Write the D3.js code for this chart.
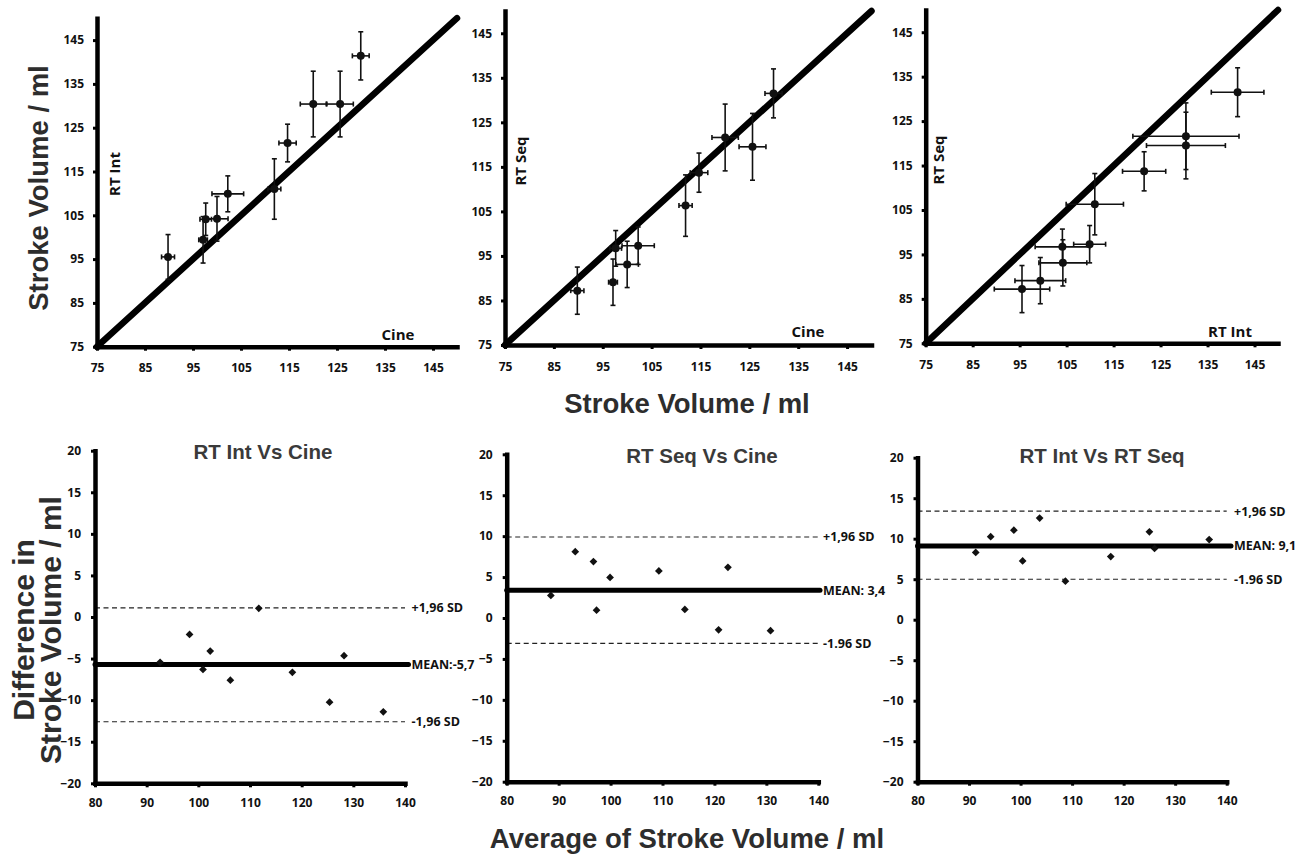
<!DOCTYPE html>
<html>
<head>
<meta charset="utf-8">
<script src="https://cdn.jsdelivr.net/npm/d3@7"></script>
<style>
  body { margin: 0; background: #fff; }
  svg { display: block; }
</style>
</head>
<body>
<svg id="chart" width="1308" height="856"></svg>
<script>
// ---- Stroke volume per subject (ml), mean of repeated measurements ----
const cine   = [89.8, 97.1, 97.65, 100.0, 102.25, 111.95, 114.7, 120.05, 125.65, 129.95];
const rtInt  = [95.5, 99.4, 104.1, 104.2, 109.9, 111.0, 121.5, 130.4, 130.4, 141.4];
const rtSeq  = [87.2, 89.1, 96.7, 93.1, 97.3, 106.3, 113.7, 121.6, 119.5, 131.5];

// ---- Standard deviations used for the error bars (ml) ----
const cineSD   = [1.35, 0.9, 1.2, 2.3, 3.3, 1.35, 1.8, 2.7, 2.75, 1.75];
const rtIntSD  = [5.1, 5.3, 3.7, 5.1, 4.1, 6.9, 4.3, 7.5, 7.5, 5.5];
const rtSeqSD  = [5.3, 5.2, 4.0, 5.2, 4.2, 6.9, 4.4, 7.5, 7.5, 5.5];
const rtIntSDx = [5.9, 5.4, 5.8, 5.1, 3.4, 6.1, 4.6, 11.3, 8.4, 5.6];

// ---- Bland-Altman: averages and differences (ml) ----
const baIntCineAvg  = [92.6, 98.3, 100.9, 102.3, 106.2, 111.7, 118.2, 125.4, 128.2, 135.8];
const baIntCineDiff = [-5.45, -2.1, -6.3, -4.1, -7.6, 1.05, -6.65, -10.25, -4.65, -11.4];
const baSeqCineAvg  = [88.5, 93.2, 96.7, 97.3, 99.9, 109.3, 114.3, 120.8, 122.6, 130.8];
const baSeqCineDiff = [2.75, 8.1, 6.9, 0.95, 4.95, 5.75, 1.05, -1.45, 6.2, -1.55];
const baIntSeqAvg   = [91.3, 94.2, 98.7, 100.4, 103.7, 108.7, 117.5, 125.0, 126.0, 136.6];
const baIntSeqDiff  = [8.3, 10.25, 11.05, 7.25, 12.55, 4.75, 7.8, 10.85, 8.8, 9.9];

// mean bias and limits of agreement (+1.96 SD, -1.96 SD)
const baMeans  = [-5.7, 3.4, 9.1];
const baUpper  = [1.1, 9.9, 13.4];
const baLower  = [-12.6, -3.1, 5.0];
const baUpperLabels = ["+1,96 SD", "+1,96 SD", "+1,96 SD"];
const baLowerLabels = ["-1,96 SD", "-1.96 SD", "-1.96 SD"];
const baMeanSep = ["", " ", " "];
const baTitles = ["RT Int Vs Cine", "RT Seq Vs Cine", "RT Int Vs RT Seq"];

// ---- Tick values ----
const svTicks   = [75, 85, 95, 105, 115, 125, 135, 145];
const avgTicks  = [80, 90, 100, 110, 120, 130, 140];
const diffTicks = [-20, -15, -10, -5, 0, 5, 10, 15, 20];

const svg = d3.select("#chart");
const tickFont = "'Open Sans', 'Noto Sans', sans-serif";
const titleFont = "'Liberation Sans', Arial, sans-serif";

function styleAxis(g) {
  g.select(".domain").attr("stroke", "#000").attr("stroke-width", 4.5).attr("stroke-linecap", "square");
  g.selectAll(".tick line").attr("stroke", "#000").attr("stroke-width", 3);
  g.selectAll(".tick text").attr("font-family", tickFont).attr("font-weight", 700)
    .attr("font-size", 12).attr("fill", "#111");
}

// ================= Top row: scatter with error bars =================
const topPanels = [
  { xr: [97, 457],   yr: [346.7, 18.2], xs: cine,  ys: rtInt, xe: cineSD,   ye: rtIntSD,
    yLab: "RT Int", yLabPos: [119.5, 174], xLab: "Cine",   xLabPos: [398, 340] },
  { xr: [505, 871.5], yr: [345, 11.0], xs: cine,  ys: rtSeq, xe: cineSD,   ye: rtSeqSD,
    yLab: "RT Seq", yLabPos: [526, 161], xLab: "Cine",   xLabPos: [808, 337] },
  { xr: [925.7, 1278], yr: [343.3, 10.0], xs: rtInt, ys: rtSeq, xe: rtIntSDx, ye: rtSeqSD,
    yLab: "RT Seq", yLabPos: [944, 160], xLab: "RT Int", xLabPos: [1230, 337] }
];

topPanels.forEach(p => {
  const x = d3.scaleLinear().domain([75, 150]).range(p.xr);
  const y = d3.scaleLinear().domain([75, 150]).range(p.yr);
  const g = svg.append("g");

  g.append("g").attr("transform", `translate(0,${p.yr[0]})`)
    .call(d3.axisBottom(x).tickValues(svTicks).tickSize(4).tickSizeOuter(0).tickPadding(13))
    .call(styleAxis);
  g.append("g").attr("transform", `translate(${p.xr[0]},0)`)
    .call(d3.axisLeft(y).tickValues(svTicks).tickSize(4).tickSizeOuter(0).tickPadding(9))
    .call(styleAxis);

  // line of identity
  g.append("line")
    .attr("x1", x(75)).attr("y1", y(75)).attr("x2", x(150)).attr("y2", y(150))
    .attr("stroke", "#000").attr("stroke-width", 6.5).attr("stroke-linecap", "round");

  const pts = p.xs.map((v, i) => ({ x: v, y: p.ys[i], ex: p.xe[i], ey: p.ye[i] }));
  const cap = 2.5;
  const eb = g.append("g").attr("stroke", "#111").attr("stroke-width", 1.6);
  pts.forEach(d => {
    eb.append("line").attr("x1", x(d.x)).attr("x2", x(d.x)).attr("y1", y(d.y - d.ey)).attr("y2", y(d.y + d.ey));
    eb.append("line").attr("x1", x(d.x) - cap).attr("x2", x(d.x) + cap).attr("y1", y(d.y - d.ey)).attr("y2", y(d.y - d.ey));
    eb.append("line").attr("x1", x(d.x) - cap).attr("x2", x(d.x) + cap).attr("y1", y(d.y + d.ey)).attr("y2", y(d.y + d.ey));
    eb.append("line").attr("x1", x(d.x - d.ex)).attr("x2", x(d.x + d.ex)).attr("y1", y(d.y)).attr("y2", y(d.y));
    eb.append("line").attr("x1", x(d.x - d.ex)).attr("x2", x(d.x - d.ex)).attr("y1", y(d.y) - cap).attr("y2", y(d.y) + cap);
    eb.append("line").attr("x1", x(d.x + d.ex)).attr("x2", x(d.x + d.ex)).attr("y1", y(d.y) - cap).attr("y2", y(d.y) + cap);
  });
  g.selectAll("circle.pt").data(pts).join("circle").attr("class", "pt")
    .attr("cx", d => x(d.x)).attr("cy", d => y(d.y)).attr("r", 4).attr("fill", "#111");

  g.append("text").attr("transform", `translate(${p.yLabPos[0]},${p.yLabPos[1]}) rotate(-90)`)
    .attr("text-anchor", "middle").attr("font-family", tickFont).attr("font-weight", 700)
    .attr("font-size", 15).attr("fill", "#111").text(p.yLab);
  g.append("text").attr("x", p.xLabPos[0]).attr("y", p.xLabPos[1])
    .attr("text-anchor", "middle").attr("font-family", tickFont).attr("font-weight", 700)
    .attr("font-size", 15).attr("fill", "#111").text(p.xLab);
});

// ================= Bottom row: Bland-Altman plots =================
const baPanels = [
  { xr: [95, 405],     yr: [783.3, 450.7], avg: baIntCineAvg, diff: baIntCineDiff, labX: 411.5, title: [263, 459] },
  { xr: [506.7, 818.3], yr: [781.7, 454.3], avg: baSeqCineAvg, diff: baSeqCineDiff, labX: 823,   title: [702, 463] },
  { xr: [917.5, 1226.7], yr: [781.7, 457.7], avg: baIntSeqAvg,  diff: baIntSeqDiff,  labX: 1234,  title: [1102, 463] }
];
const fmtComma = v => d3.format(".1f")(v).replace(".", ",").replace("−", "-");

baPanels.forEach((p, k) => {
  const x = d3.scaleLinear().domain([80, 140]).range(p.xr);
  const y = d3.scaleLinear().domain([-20, 20]).range(p.yr);
  const g = svg.append("g");

  // limits of agreement
  [[baUpper[k], baUpperLabels[k]], [baLower[k], baLowerLabels[k]]].forEach(([v, lab]) => {
    g.append("line").attr("x1", x(80)).attr("x2", x(140)).attr("y1", y(v)).attr("y2", y(v))
      .attr("stroke", "#222").attr("stroke-width", 1.1).attr("stroke-dasharray", "5,3.5");
    g.append("text").attr("x", p.labX).attr("y", y(v)).attr("dy", "0.36em")
      .attr("font-family", tickFont).attr("font-weight", 700).attr("font-size", 12.5)
      .attr("fill", "#111").text(lab);
  });

  g.append("g").attr("transform", `translate(0,${p.yr[0]})`)
    .call(d3.axisBottom(x).tickValues(avgTicks).tickSize(4).tickSizeOuter(0).tickPadding(11))
    .call(styleAxis);
  g.append("g").attr("transform", `translate(${p.xr[0]},0)`)
    .call(d3.axisLeft(y).tickValues(diffTicks).tickSize(4).tickSizeOuter(0).tickPadding(10))
    .call(styleAxis);

  // mean bias
  g.append("line").attr("x1", x(80)).attr("x2", p.labX - 3).attr("y1", y(baMeans[k])).attr("y2", y(baMeans[k]))
    .attr("stroke", "#000").attr("stroke-width", 5).attr("stroke-linecap", "round");
  g.append("text").attr("x", p.labX).attr("y", y(baMeans[k])).attr("dy", "0.36em")
    .attr("font-family", tickFont).attr("font-weight", 700).attr("font-size", 12.5)
    .attr("fill", "#111").text("MEAN:" + baMeanSep[k] + fmtComma(baMeans[k]));

  const pts = p.avg.map((v, i) => ({ x: v, y: p.diff[i] }));
  g.selectAll("path.pt").data(pts).join("path").attr("class", "pt")
    .attr("d", d3.symbol(d3.symbolSquare, 30))
    .attr("transform", d => `translate(${x(d.x)},${y(d.y)}) rotate(45)`)
    .attr("fill", "#111");

  g.append("text").attr("x", p.title[0]).attr("y", p.title[1]).attr("text-anchor", "middle")
    .attr("font-family", titleFont).attr("font-weight", 700).attr("font-size", 20.5)
    .attr("fill", "#3a3a3a").text(baTitles[k]);
});

// ================= Shared axis titles =================
const bigTitle = (sel, size) => sel.attr("font-family", titleFont).attr("font-weight", 700)
  .attr("font-size", size).attr("fill", "#2d2d2d").attr("text-anchor", "middle");

svg.append("text").attr("transform", "translate(48,188) rotate(-90)").call(bigTitle, 27.5).text("Stroke Volume / ml");
svg.append("text").attr("x", 687).attr("y", 413).call(bigTitle, 27.5).text("Stroke Volume / ml");
svg.append("text").attr("transform", "translate(34,630) rotate(-90)").call(bigTitle, 30).text("Difference in");
svg.append("text").attr("transform", "translate(61,630) rotate(-90)").call(bigTitle, 30).text("Stroke Volume / ml");
svg.append("text").attr("x", 687).attr("y", 848).call(bigTitle, 27.5).text("Average of Stroke Volume / ml");
</script>
</body>
</html>
